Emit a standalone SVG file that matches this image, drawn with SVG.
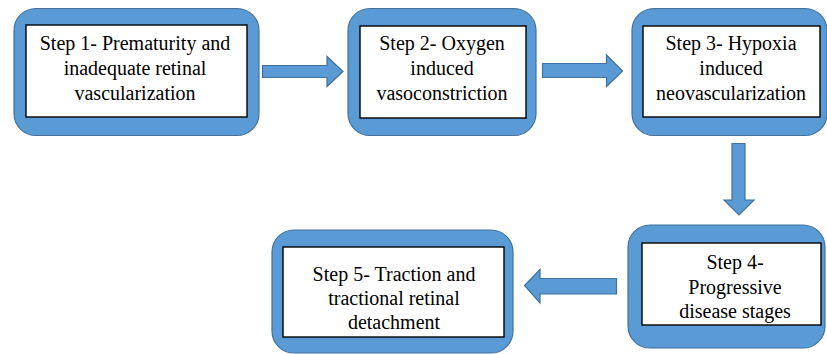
<svg xmlns="http://www.w3.org/2000/svg" width="827" height="354" viewBox="0 0 827 354">
<style>
.outer{fill:#5B9BD5;stroke:#41719C;stroke-width:1.2}
.inner{fill:#FFFFFF;stroke:#000000;stroke-width:1.4}
.arrow{fill:#5B9BD5;stroke:#41719C;stroke-width:1.2;stroke-linejoin:miter}
</style>
<rect width="827" height="354" fill="#FFFFFF"/>
<g id="step1" font-family="Liberation Serif" font-size="20" text-anchor="middle" fill="#000000">
<rect class="outer" x="14" y="8.5" width="245" height="127" rx="22" ry="22"/>
<rect class="inner" x="26" y="25" width="221" height="92"/>
<text x="135" y="50">Step 1- Prematurity and</text>
<text x="135" y="75">inadequate retinal</text>
<text x="135" y="100">vascularization</text>
</g>
<g id="step2" font-family="Liberation Serif" font-size="20" text-anchor="middle" fill="#000000">
<rect class="outer" x="348" y="8.5" width="188" height="127" rx="22" ry="22"/>
<rect class="inner" x="360" y="26" width="166" height="92"/>
<text x="442" y="50">Step 2- Oxygen</text>
<text x="442" y="75">induced</text>
<text x="442" y="100">vasoconstriction</text>
</g>
<g id="step3" font-family="Liberation Serif" font-size="20" text-anchor="middle" fill="#000000">
<rect class="outer" x="632" y="8.5" width="195" height="127" rx="22" ry="22"/>
<rect class="inner" x="643" y="26" width="177" height="91"/>
<text x="731" y="50">Step 3- Hypoxia</text>
<text x="731" y="75">induced</text>
<text x="731" y="100">neovascularization</text>
</g>
<g id="step4" font-family="Liberation Serif" font-size="20" text-anchor="middle" fill="#000000">
<rect class="outer" x="628" y="225" width="197" height="123" rx="22" ry="22"/>
<rect class="inner" x="642" y="243" width="179" height="82"/>
<text x="735" y="269">Step 4-</text>
<text x="735" y="294">Progressive</text>
<text x="735" y="318">disease stages</text>
</g>
<g id="step5" font-family="Liberation Serif" font-size="20" text-anchor="middle" fill="#000000">
<rect class="outer" x="272" y="230" width="241" height="123" rx="22" ry="22"/>
<rect class="inner" x="283" y="247" width="221" height="90"/>
<text x="394" y="281">Step 5- Traction and</text>
<text x="394" y="305">tractional retinal</text>
<text x="394" y="329">detachment</text>
</g>
<g id="connectors">
<polygon class="arrow" points="262.5,65.5 327,65.5 327,56.5 343,71.5 327,86.5 327,77.5 262.5,77.5"/>
<polygon class="arrow" points="542.5,63.5 606.5,63.5 606.5,55 622.5,71 606.5,86.5 606.5,77.5 542.5,77.5"/>
<polygon class="arrow" points="732,143.5 745,143.5 745,200 754,200 739,215 724,200 732,200"/>
<polygon class="arrow" points="616.5,278.5 540,278.5 540,269.5 524.5,285.5 540,303 540,294 616.5,294"/>
</g>
</svg>
